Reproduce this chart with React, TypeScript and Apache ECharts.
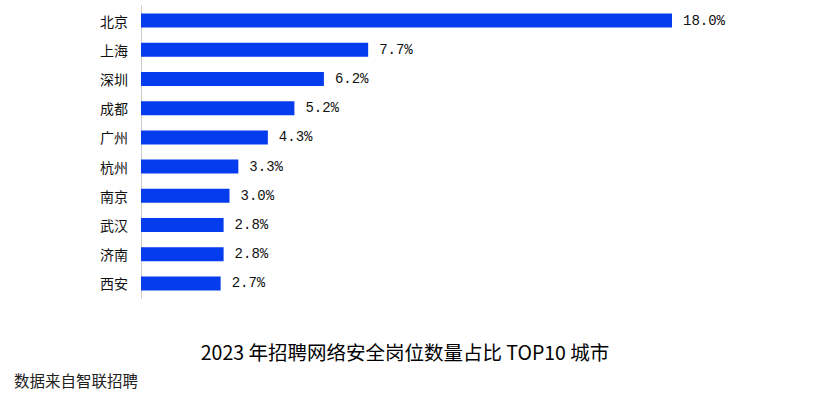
import React, { useEffect, useRef } from "react";
import * as echarts from "echarts";

const cities = ["北京", "上海", "深圳", "成都", "广州", "杭州", "南京", "武汉", "济南", "西安"];
const shares = [18.0, 7.7, 6.2, 5.2, 4.3, 3.3, 3.0, 2.8, 2.8, 2.7];
const titleText = "2023 年招聘网络安全岗位数量占比 TOP10 城市";
const sourceText = "数据来自智联招聘";

export default function App() {
  const ref = useRef<HTMLDivElement>(null);
  useEffect(() => {
    const chart = echarts.init(ref.current!, null, { renderer: "svg" });
    chart.setOption({
      animation: false,
      grid: { left: 141, top: 6, width: 531, height: 292 },
      title: {
        text: titleText,
        left: 400,
        textAlign: "center",
        top: 337,
        textStyle: { fontSize: 19.5, fontWeight: "normal", color: "#000", fontFamily: "Noto Sans CJK SC" },
      },
      graphic: [
        {
          type: "text",
          left: 14,
          top: 372,
          style: { text: sourceText, fontSize: 15.5, fill: "#222", fontFamily: "Noto Sans CJK SC" },
        },
      ],
      xAxis: {
        type: "value",
        min: 0,
        max: 18,
        show: false,
      },
      yAxis: {
        type: "category",
        inverse: true,
        data: cities,
        axisLine: { show: true, lineStyle: { color: "#ccc" } },
        axisTick: { show: false },
        axisLabel: { fontSize: 14, color: "#111", margin: 13, fontFamily: "Noto Sans CJK SC" },
      },
      series: [
        {
          type: "bar",
          data: shares,
          barWidth: 14,
          itemStyle: { color: "#053ced" },
          label: {
            show: true,
            position: "right",
            distance: 11,
            formatter: (p: any) => p.value.toFixed(1) + "%",
            fontSize: 14,
            color: "#111",
            fontFamily: "Liberation Mono",
          },
        },
      ],
    });
    return () => chart.dispose();
  }, []);
  return <div ref={ref} style={{ position: "absolute", left: 0, top: 0, width: 821, height: 399 }} />;
}
